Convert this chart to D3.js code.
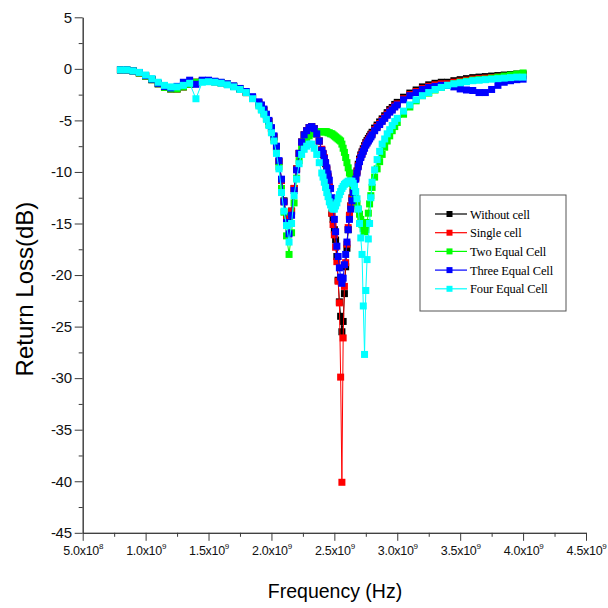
<!DOCTYPE html>
<html>
<head>
<meta charset="utf-8">
<script src="https://cdn.jsdelivr.net/npm/d3@7"></script>
<style>
  body { margin: 0; background: #fff; }
  svg { display: block; }
</style>
</head>
<body>
<div id="chart"></div>
<script>
// sample frequencies in GHz (shared by all five traces)
const freqGHz = [
  0.80, 0.85, 0.90, 0.95, 1.00, 1.05, 1.10, 1.15, 1.20, 1.25, 1.30, 1.35, 1.40, 1.45, 1.50, 1.55, 1.60, 1.65, 1.70, 1.75, 1.80, 1.85,
  1.90, 1.92, 1.94, 1.96, 1.98, 2.00, 2.02, 2.04, 2.06, 2.08, 2.10, 2.12, 2.14, 2.16, 2.18, 2.20, 2.22, 2.24, 2.26, 2.28, 2.30, 2.32, 2.34, 2.36, 2.38,
  2.40, 2.41, 2.42, 2.43, 2.44, 2.45, 2.46, 2.47, 2.48, 2.49, 2.50, 2.51, 2.52, 2.53, 2.54, 2.55, 2.56, 2.57, 2.58, 2.59,
  2.60, 2.61, 2.62, 2.63, 2.64, 2.65, 2.66, 2.67, 2.68, 2.69, 2.70, 2.71, 2.72, 2.73, 2.74, 2.75, 2.76, 2.77, 2.78, 2.79,
  2.80, 2.82, 2.84, 2.86, 2.88, 2.90, 2.92, 2.94, 2.96, 2.98, 3.00,
  3.05, 3.10, 3.15, 3.20, 3.25, 3.30, 3.35, 3.40, 3.45, 3.50, 3.55, 3.60, 3.65, 3.70, 3.75, 3.80, 3.85, 3.90, 3.95, 4.00
];

// return loss in dB
const withoutCell = [
  -0.1, -0.1, -0.2, -0.4, -0.7, -1.05, -1.45, -1.8, -1.95, -1.95, -1.75, -1.5, -1.3, -1.2, -1.2, -1.25, -1.35, -1.5, -1.7, -1.95, -2.3, -2.8,
  -3.3, -3.6, -4.0, -4.5, -5.1, -5.8, -6.6, -7.6, -9.0, -10.8, -12.8, -14.3, -14.8, -13.8, -11.6, -9.7, -8.2, -7.1, -6.4, -6.0, -5.7, -5.6, -5.8, -6.3, -7.0,
  -7.9, -8.3, -8.7, -9.2, -9.8, -10.5, -11.5, -12.8, -14.0, -14.6, -15.6, -16.6, -18.2, -20.5, -22.6, -24.0, -25.5, -24.5, -21.8, -19.2,
  -17.4, -15.6, -14.3, -13.3, -12.5, -11.8, -11.1, -10.5, -9.9, -9.25, -8.75, -8.35, -8.05, -7.75, -7.45, -7.15, -6.95, -6.75, -6.55, -6.35,
  -6.15, -5.75, -5.45, -5.15, -4.85, -4.55, -4.25, -3.95, -3.75, -3.45, -3.25,
  -2.75, -2.35, -2.05, -1.75, -1.55, -1.4, -1.3, -1.3, -1.15, -1.05, -0.95, -0.85, -0.8, -0.75, -0.7, -0.65, -0.6, -0.55, -0.5, -0.5
];
const singleCell = [
  -0.1, -0.1, -0.2, -0.4, -0.7, -1.05, -1.45, -1.8, -1.95, -1.95, -1.75, -1.5, -1.3, -1.2, -1.2, -1.25, -1.35, -1.5, -1.7, -1.95, -2.3, -2.8,
  -3.3, -3.6, -4.0, -4.5, -5.1, -5.8, -6.6, -7.6, -9.0, -10.8, -12.9, -14.5, -15.0, -13.8, -11.6, -9.7, -8.2, -7.1, -6.4, -6.0, -5.7, -5.6, -5.8, -6.3, -7.0,
  -7.8, -8.2, -8.6, -9.1, -9.7, -10.4, -11.4, -12.7, -14.0, -15.1, -16.1, -17.3, -18.7, -20.6, -22.7, -29.9, -40.1, -26.1, -21.1, -18.8,
  -17.0, -15.4, -14.2, -13.3, -12.6, -11.9, -11.2, -10.6, -10.0, -9.4, -8.9, -8.5, -8.2, -7.9, -7.6, -7.3, -7.1, -6.9, -6.7, -6.5,
  -6.3, -5.9, -5.6, -5.3, -5.0, -4.7, -4.4, -4.1, -3.9, -3.6, -3.4,
  -2.9, -2.5, -2.2, -1.9, -1.7, -1.55, -1.45, -1.45, -1.3, -1.2, -1.1, -1.0, -0.95, -0.9, -0.85, -0.8, -0.75, -0.7, -0.65, -0.65
];
const twoEqualCell = [
  -0.1, -0.1, -0.2, -0.4, -0.7, -1.05, -1.45, -1.8, -1.95, -1.95, -1.75, -1.5, -1.3, -1.2, -1.2, -1.25, -1.35, -1.5, -1.7, -1.95, -2.3, -2.85,
  -3.5, -3.9, -4.3, -4.8, -5.4, -6.1, -6.9, -8.0, -9.5, -11.6, -13.9, -16.2, -18.0, -15.9, -13.0, -10.6, -8.9, -7.8, -7.1, -6.7, -6.5, -6.3, -6.2, -6.1, -6.1,
  -6.1, -6.1, -6.1, -6.1, -6.1, -6.2, -6.2, -6.3, -6.3, -6.4, -6.5, -6.6, -6.7, -6.8, -6.9, -7.0, -7.3, -7.7, -8.1, -8.6,
  -9.1, -9.6, -10.1, -10.6, -11.1, -11.6, -12.1, -12.6, -13.1, -13.6, -14.1, -14.6, -15.1, -15.5, -15.8, -15.6, -14.9, -14.0, -13.1, -12.3,
  -11.5, -10.5, -9.7, -9.0, -8.3, -7.6, -7.0, -6.5, -6.0, -5.6, -5.2,
  -4.4, -3.7, -3.1, -2.6, -2.35, -2.05, -1.8, -1.6, -1.45, -1.3, -1.2, -1.1, -1.05, -1.0, -0.9, -0.8, -0.7, -0.6, -0.5, -0.4
];
const threeEqualCell = [
  -0.1, -0.1, -0.2, -0.35, -0.65, -1.0, -1.4, -1.7, -1.85, -1.7, -1.3, -1.1, -1.5, -1.1, -1.1, -1.2, -1.3, -1.45, -1.65, -1.9, -2.2, -2.7,
  -3.2, -3.5, -3.9, -4.4, -5.0, -5.7, -6.5, -7.5, -8.9, -10.7, -12.9, -14.9, -16.0, -14.2, -11.8, -9.8, -8.2, -7.1, -6.4, -6.0, -5.7, -5.6, -5.8, -6.3, -7.0,
  -7.9, -8.2, -8.7, -9.1, -9.6, -10.2, -10.8, -11.6, -12.5, -13.5, -14.6, -15.8, -17.2, -18.2, -19.3, -20.2, -20.8, -20.3, -19.0, -18.0,
  -16.8, -15.6, -14.6, -13.6, -12.8, -12.0, -11.3, -10.7, -10.1, -9.5, -9.0, -8.6, -8.3, -8.0, -7.7, -7.4, -7.2, -7.0, -6.8, -6.6,
  -6.4, -6.0, -5.7, -5.4, -5.1, -4.8, -4.5, -4.2, -4.0, -3.7, -3.5,
  -3.0, -2.6, -2.3, -2.0, -1.8, -1.7, -1.6, -1.6, -1.75, -1.95, -2.05, -2.1, -2.3, -2.3, -2.0, -1.6, -1.3, -1.15, -1.05, -1.0
];
const fourEqualCell = [
  -0.1, -0.1, -0.2, -0.35, -0.6, -0.95, -1.3, -1.6, -1.75, -1.75, -1.6, -1.4, -2.9, -1.3, -1.25, -1.3, -1.4, -1.55, -1.75, -2.0, -2.3, -2.9,
  -3.6, -4.0, -4.4, -4.9, -5.5, -6.2, -7.0, -8.2, -9.7, -12.0, -13.8, -15.2, -16.8, -15.0, -12.3, -10.7, -9.2, -8.3, -7.8, -7.5, -7.3, -7.3, -7.7, -8.3, -9.1,
  -10.1, -10.5, -11.0, -11.5, -12.0, -12.4, -12.9, -13.2, -13.5, -13.6, -13.6, -13.3, -13.0, -12.6, -12.2, -11.9, -11.6, -11.4, -11.2, -11.1,
  -11.0, -10.9, -10.9, -10.9, -10.9, -11.1, -11.4, -11.9, -12.6, -13.6, -15.0, -16.4, -18.0, -23.0, -27.7, -21.5, -18.5, -16.5, -15.0, -12.5,
  -11.0, -9.8, -8.8, -8.0, -7.3, -6.8, -6.3, -5.9, -5.5, -5.1, -4.8,
  -4.1, -3.5, -3.0, -2.6, -2.3, -2.0, -1.8, -1.6, -1.45, -1.35, -1.25, -1.15, -1.1, -1.05, -1.0, -0.95, -0.9, -0.85, -0.8, -0.8
];

const seriesNames = ["Without cell", "Single cell", "Two Equal Cell", "Three Equal Cell", "Four Equal Cell"];
const seriesValues = [withoutCell, singleCell, twoEqualCell, threeEqualCell, fourEqualCell];
const seriesColors = ["#000000", "#ff0000", "#00ff00", "#0000ff", "#00ffff"];

const yTicks = [5, 0, -5, -10, -15, -20, -25, -30, -35, -40, -45];
const yMinorTicks = [2.5, -2.5, -7.5, -12.5, -17.5, -22.5, -27.5, -32.5, -37.5, -42.5];
const xTicks = [0.5, 1.0, 1.5, 2.0, 2.5, 3.0, 3.5, 4.0, 4.5];
const xMinorTicks = [0.75, 1.25, 1.75, 2.25, 2.75, 3.25, 3.75, 4.25];
const xTickMantissa = ["5.0", "1.0", "1.5", "2.0", "2.5", "3.0", "3.5", "4.0", "4.5"];
const xTickExponent = ["8", "9", "9", "9", "9", "9", "9", "9", "9"];

const w = 608;
const h = 608;

const x = d3.scaleLinear().domain([0.5, 4.5]).range([82.7, 586]);
const y = d3.scaleLinear().domain([-45, 5]).range([532.8, 17.3]);

const svg = d3
  .select("#chart")
  .append("svg")
  .attr("width", w)
  .attr("height", h)
  .style("background", "#fff");

// axes
const axisColor = "#3a3a3a";
const xAxisY = y(-45);
const yAxisX = x(0.5);

svg.append("g")
  .attr("transform", `translate(0,${xAxisY})`)
  .style("color", axisColor)
  .call(d3.axisBottom(x).tickValues(xMinorTicks).tickSize(4).tickSizeOuter(0).tickFormat(""));

const xAxis = svg.append("g")
  .attr("transform", `translate(0,${xAxisY})`)
  .style("color", axisColor)
  .call(d3.axisBottom(x).tickValues(xTicks).tickSize(8).tickSizeOuter(0).tickFormat(""));

xAxis.selectAll(".tick text").remove();
xAxis.selectAll(".tick")
  .append("text")
  .attr("y", 22)
  .attr("fill", "#111")
  .attr("text-anchor", "middle")
  .style("font-family", "'Liberation Sans', Arial, sans-serif")
  .style("font-size", "12.5px")
  .style("letter-spacing", "-0.3px")
  .each(function(d, i) {
    const t = d3.select(this);
    t.append("tspan").text(xTickMantissa[i] + "x10");
    t.append("tspan")
      .attr("dy", -5.5)
      .style("font-size", "8px")
      .text(xTickExponent[i]);
  });

svg.append("g")
  .attr("transform", `translate(${yAxisX},0)`)
  .style("color", axisColor)
  .call(d3.axisLeft(y).tickValues(yMinorTicks).tickSize(4).tickSizeOuter(0).tickFormat(""));

svg.append("g")
  .attr("transform", `translate(${yAxisX},0)`)
  .style("color", axisColor)
  .call(d3.axisLeft(y).tickValues(yTicks).tickSize(8).tickSizeOuter(0).tickPadding(3).tickFormat(d => String(d)))
  .selectAll("text")
  .attr("fill", "#111")
  .style("font-family", "'Liberation Sans', Arial, sans-serif")
  .style("font-size", "15px")
  .style("letter-spacing", "-0.3px");

// axis titles
svg.append("text")
  .attr("x", 335)
  .attr("y", 598)
  .attr("text-anchor", "middle")
  .style("font-family", "'Liberation Sans', Arial, sans-serif")
  .style("font-size", "19.5px")
  .text("Frequency (Hz)");

svg.append("text")
  .attr("transform", "rotate(-90)")
  .attr("x", -289)
  .attr("y", 33)
  .attr("text-anchor", "middle")
  .style("font-family", "'Liberation Sans', Arial, sans-serif")
  .style("font-size", "24px")
  .text("Return Loss(dB)");

// traces
const line = d3.line()
  .x(d => x(d[0]))
  .y(d => y(d[1]));

const ms = 7;
seriesValues.forEach((vals, k) => {
  const pts = freqGHz.map((f, i) => [f, vals[i]]);
  const g = svg.append("g");
  g.append("path")
    .datum(pts)
    .attr("fill", "none")
    .attr("stroke", seriesColors[k])
    .attr("stroke-width", 1)
    .attr("d", line);
  g.selectAll("rect")
    .data(pts)
    .enter()
    .append("rect")
    .attr("x", d => x(d[0]) - ms / 2)
    .attr("y", d => y(d[1]) - ms / 2)
    .attr("width", ms)
    .attr("height", ms)
    .attr("fill", seriesColors[k]);
});

// legend
const legend = svg.append("g").attr("transform", "translate(420,195)");
legend.append("rect")
  .attr("width", 146)
  .attr("height", 116)
  .attr("fill", "#fff")
  .attr("stroke", "#555")
  .attr("stroke-width", 1);

const rows = legend.selectAll("g.row")
  .data(seriesNames)
  .enter()
  .append("g")
  .attr("class", "row")
  .attr("transform", (d, i) => `translate(0,${19 + i * 18.7})`);

rows.append("line")
  .attr("x1", 15)
  .attr("x2", 47)
  .attr("stroke", (d, i) => seriesColors[i])
  .attr("stroke-width", 1.2);

rows.append("rect")
  .attr("x", 26.5)
  .attr("y", -3)
  .attr("width", 6)
  .attr("height", 6)
  .attr("fill", (d, i) => seriesColors[i]);

rows.append("text")
  .attr("x", 50)
  .attr("y", 4.5)
  .style("font-family", "'Liberation Serif', 'Times New Roman', serif")
  .style("font-size", "12.5px")
  .style("letter-spacing", "-0.15px")
  .text(d => d);
</script>
</body>
</html>
